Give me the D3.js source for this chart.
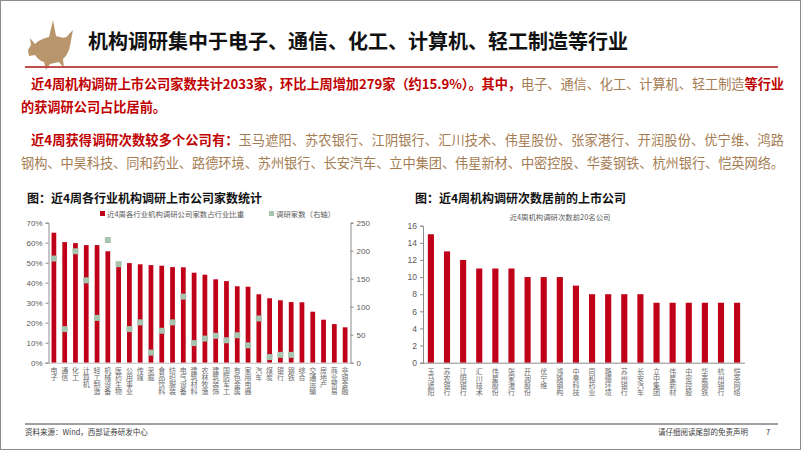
<!DOCTYPE html>
<html><head><meta charset="utf-8">
<script src="https://cdn.jsdelivr.net/npm/d3@7"></script>
<style>
html,body{margin:0;padding:0;background:#fff;}
svg{display:block;font-family:"Noto Sans CJK SC","Noto Sans",sans-serif;}
.vt{writing-mode:vertical-rl;}
</style></head>
<body>
<svg id="c" width="802" height="451"></svg>
<script>
// ---------- data ----------
const industries = ["电子","通信","化工","计算机","轻工制造","机械设备","医药生物","公用事业","传媒","采掘","食品饮料","纺织服装","电气设备","建筑材料","农林牧渔","建筑装饰","国防军工","有色金属","家用电器","汽车","煤炭","银行","钢铁","综合","交通运输","房地产","商业贸易","非银金融"];
const ratioPct = [65.0,60.3,59.8,58.8,58.8,55.7,50.2,49.8,49.2,48.8,48.5,47.8,47.7,45.0,44.0,41.7,40.8,38.2,38.0,34.2,32.2,31.2,30.3,30.2,25.5,21.5,19.3,17.7];
const researchCount = [186,60,199,147,80,219,176,60,72,18,57,72,118,35,43,48,40,49,31,79,10,14,14,null,null,null,null,null];
const leftTicks = [0,10,20,30,40,50,60,70];
const rightTicks = [0,50,100,150,200,250];

const companies = ["玉马遮阳","苏农银行","江阴银行","汇川技术","伟星股份","张家港行","开润股份","优宁维","鸿路钢构","中昊科技","同和药业","路德环境","苏州银行","长安汽车","立中集团","伟星新材","中密控股","华菱钢铁","杭州银行","恺英网络"];
const visits = [15,13,12,11,11,11,10,10,10,9,8,8,8,8,7,7,7,7,7,7];
const visitTicks = [0,2,4,6,8,10,12,14,16];

const RED = "#C00018", TAN = "#A57C52", DRED = "#C00000", GREEN = "#A8C3AE", GREY = "#595959";

const svg = d3.select("#c");

// page frame
svg.append("rect").attr("x",0.5).attr("y",0.5).attr("width",800).attr("height",449)
  .attr("fill","none").attr("stroke","#8c8c8c").attr("stroke-width",1);

// bull logo
svg.append("path")
  .attr("d","M28,50 L31,45 L30,38 L35,44 C39,40 44,38 49,37 L53,20 L56,36 C61,37 66,40 69,34 L73,30 L71,40 C70,48 68,55 63,59 L64,68 L59,62 L50,64 L46,70 L44,62 C40,61 37,58 35,55 L29,56 Z")
  .attr("fill","#B8956B");

// title
svg.append("text").attr("x",88).attr("y",49).attr("font-size",20).attr("font-weight",700)
  .attr("fill","#111").text("机构调研集中于电子、通信、化工、计算机、轻工制造等行业");
svg.append("line").attr("x1",25).attr("x2",778).attr("y1",67).attr("y2",67)
  .attr("stroke","#C0504D").attr("stroke-width",2);

// paragraphs
function para(x, y, len, parts){
  const t = svg.append("text").attr("x",x).attr("y",y).attr("font-size",13.2).attr("font-weight",700);
  if(len) t.attr("textLength",len).attr("lengthAdjust","spacing");
  parts.forEach(p=>t.append("tspan").attr("fill",p[1]).attr("font-weight",p[1]===TAN?400:700).text(p[0]));
}
para(31, 89, 753, [["近4周机构调研上市公司家数共计2033家，环比上周增加279家（约15.9%）。其中，",DRED],["电子、通信、化工、计算机、轻工制造",TAN],["等行业",DRED]]);
para(21, 112, null, [["的获调研公司占比居前。",DRED]]);
para(31, 145, 753, [["近4周获得调研次数较多个公司有：",DRED],["玉马遮阳、苏农银行、江阴银行、汇川技术、伟星股份、张家港行、开润股份、优宁维、鸿路",TAN]]);
para(21, 168, 763, [["钢构、中昊科技、同和药业、路德环境、苏州银行、长安汽车、立中集团、伟星新材、中密控股、华菱钢铁、杭州银行、恺英网络。",TAN]]);

// vertical label helper (single text element, vertical writing mode)
function vlabel(g, x, top, s, fs){
  g.append("text").attr("class","vt").attr("x",x).attr("y",top)
    .attr("font-size",fs).attr("fill","#6b6b6b").text(s);
}

// ---------- left chart ----------
svg.append("text").attr("x",27).attr("y",203).attr("font-size",12).attr("font-weight",700)
  .attr("fill","#111").text("图：近4周各行业机构调研上市公司家数统计");
svg.append("rect").attr("x",100).attr("y",211).attr("width",5).attr("height",5).attr("fill",RED);
svg.append("text").attr("x",107).attr("y",216.5).attr("font-size",7.4).attr("fill",GREY).text("近4周各行业机构调研公司家数占行业比重");
svg.append("rect").attr("x",269).attr("y",211).attr("width",5).attr("height",5).attr("fill",GREEN);
svg.append("text").attr("x",276).attr("y",216.5).attr("font-size",7.4).attr("fill",GREY).text("调研家数（右轴）");

const L = {x0:48.5, x1:350.5, y0:362.7, y1:222.7};
const xL = d3.scaleBand().domain(industries).range([L.x0,L.x1]).paddingInner(0.56).paddingOuter(0.28);
const yL = d3.scaleLinear().domain([0,70]).range([L.y0,L.y1]);
const yR = d3.scaleLinear().domain([0,250]).range([L.y0,L.y1]);
const gL = svg.append("g");

gL.selectAll("rect.bar").data(industries).join("rect").attr("class","bar")
  .attr("x",d=>xL(d)).attr("width",xL.bandwidth())
  .attr("y",(d,i)=>yL(ratioPct[i])).attr("height",(d,i)=>L.y0-yL(ratioPct[i]))
  .attr("fill",RED);

const mk = 6;
gL.selectAll("rect.mk").data(industries.map((d,i)=>({d,v:researchCount[i]})).filter(o=>o.v!==null))
  .join("rect").attr("class","mk")
  .attr("x",o=>xL(o.d)+xL.bandwidth()/2-mk/2).attr("y",o=>yR(o.v)-mk/2)
  .attr("width",mk).attr("height",mk).attr("fill",GREEN);

const axL = gL.append("g").attr("transform",`translate(${L.x0},0)`)
  .call(d3.axisLeft(yL).tickValues(leftTicks).tickSize(3).tickFormat(d=>d+"%"));
const axR = gL.append("g").attr("transform",`translate(${L.x1},0)`)
  .call(d3.axisRight(yR).tickValues(rightTicks).tickSize(3));
[axL,axR].forEach(a=>{
  a.select(".domain").attr("stroke","#8c8c8c");
  a.selectAll(".tick line").attr("stroke","#8c8c8c");
  a.selectAll(".tick text").attr("fill",GREY).attr("font-size",8).attr("font-family","Liberation Sans, Arial, sans-serif");
});
gL.append("line").attr("x1",L.x0).attr("x2",L.x1).attr("y1",L.y0+0.5).attr("y2",L.y0+0.5).attr("stroke","#bfbfbf");
industries.forEach(d=>vlabel(gL, xL(d)+xL.bandwidth()/2, 367, d, 7));

// ---------- right chart ----------
svg.append("text").attr("x",415).attr("y",203).attr("font-size",12).attr("font-weight",700)
  .attr("fill","#111").text("图：近4周机构调研次数居前的上市公司");
svg.append("text").attr("x",560).attr("y",220).attr("text-anchor","middle").attr("font-size",7.4)
  .attr("fill",GREY).text("近4周机构调研次数前20名公司");

const R = {x0:423, x1:745, y0:362.7, y1:225.7};
const xC = d3.scaleBand().domain(companies).range([R.x0,R.x1]).paddingInner(0.62).paddingOuter(0.3);
const yC = d3.scaleLinear().domain([0,16]).range([R.y0,R.y1]);
const gR = svg.append("g");
gR.selectAll("rect").data(companies).join("rect")
  .attr("x",d=>xC(d)).attr("width",xC.bandwidth())
  .attr("y",(d,i)=>yC(visits[i])).attr("height",(d,i)=>R.y0-yC(visits[i]))
  .attr("fill",RED);
const axC = gR.append("g").attr("transform",`translate(${R.x0},0)`)
  .call(d3.axisLeft(yC).tickValues(visitTicks).tickSize(3));
axC.select(".domain").attr("stroke","#8c8c8c");
axC.selectAll(".tick line").attr("stroke","#8c8c8c");
axC.selectAll(".tick text").attr("fill",GREY).attr("font-size",8.5).attr("font-family","Liberation Sans, Arial, sans-serif");
gR.append("line").attr("x1",R.x0).attr("x2",R.x1).attr("y1",R.y0+0.5).attr("y2",R.y0+0.5).attr("stroke","#8c8c8c");
companies.forEach(d=>vlabel(gR, xC(d)+xC.bandwidth()/2, 368, d, 7));

// ---------- footer ----------
svg.append("line").attr("x1",25).attr("x2",778).attr("y1",424).attr("y2",424).attr("stroke","#7f7f7f").attr("stroke-width",1.5);
svg.append("text").attr("x",25).attr("y",435).attr("font-size",7.5).attr("fill","#404040").text("资料来源：Wind，西部证券研发中心");
svg.append("text").attr("x",748).attr("y",435).attr("text-anchor","end").attr("font-size",7.5).attr("fill","#404040").text("请仔细阅读尾部的免责声明");
svg.append("text").attr("x",768).attr("y",435).attr("text-anchor","middle").attr("font-size",7.5).attr("fill","#404040").text("7");
</script>
</body></html>
